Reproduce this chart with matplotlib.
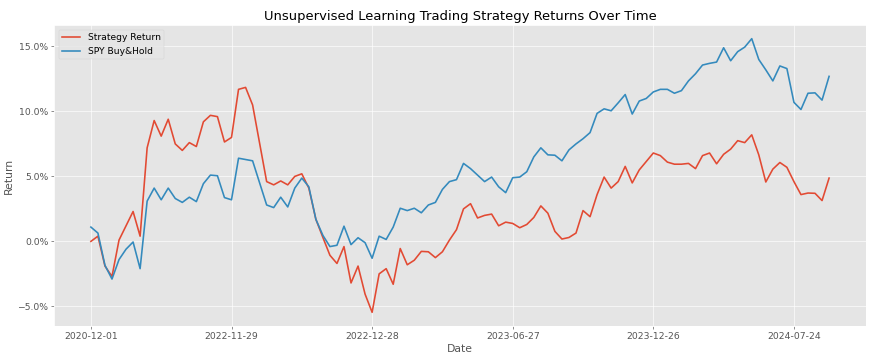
import matplotlib
matplotlib.use("Agg")
import matplotlib.pyplot as plt
from matplotlib.ticker import PercentFormatter

strategy_return = [
    0.0, 0.4, -1.9, -2.7, 0.1, 1.2, 2.3, 0.4, 7.2, 9.3,
    8.1, 9.4, 7.5, 7.0, 7.6, 7.3, 9.2, 9.7, 9.6, 7.65,
    8.0, 11.7, 11.85, 10.5, 7.55, 4.6, 4.35, 4.65, 4.35, 5.0,
    5.2, 4.1, 1.7, 0.3, -1.07, -1.7, -0.4, -3.2, -1.9, -4.06,
    -5.46, -2.5, -2.1, -3.3, -0.55, -1.8, -1.45, -0.77, -0.8, -1.25,
    -0.8, 0.1, 0.9, 2.5, 2.9, 1.8, 2.0, 2.1, 1.2, 1.48,
    1.38, 1.05, 1.3, 1.84, 2.73, 2.17, 0.77, 0.18, 0.3, 0.64,
    2.37, 1.9, 3.6, 4.95, 4.1, 4.6, 5.77, 4.5, 5.5, 6.15,
    6.8, 6.6, 6.1, 5.94, 5.94, 6.0, 5.6, 6.6, 6.8, 5.97,
    6.7, 7.1, 7.75, 7.6, 8.2, 6.66, 4.57, 5.56, 6.07, 5.7,
    4.6, 3.6, 3.72, 3.7, 3.14, 4.87,
]

spy_buy_hold = [
    1.1, 0.64, -1.84, -2.9, -1.4, -0.6, -0.05, -2.1, 3.1, 4.1,
    3.2, 4.1, 3.3, 3.0, 3.4, 3.06, 4.44, 5.1, 5.05, 3.37,
    3.2, 6.4, 6.3, 6.2, 4.5, 2.8, 2.6, 3.4, 2.65, 4.1,
    4.87, 4.2, 1.7, 0.46, -0.4, -0.3, 1.17, -0.25, 0.28, -0.1,
    -1.3, 0.4, 0.15, 1.1, 2.55, 2.37, 2.55, 2.2, 2.8, 3.0,
    4.0, 4.6, 4.75, 6.0, 5.6, 5.1, 4.6, 4.95, 4.2, 3.75,
    4.9, 4.95, 5.36, 6.5, 7.2, 6.66, 6.63, 6.2, 7.04, 7.5,
    7.9, 8.37, 9.85, 10.2, 10.05, 10.66, 11.3, 9.8, 10.8, 11.0,
    11.5, 11.7, 11.7, 11.4, 11.6, 12.35, 12.9, 13.57, 13.7, 13.8,
    14.9, 13.9, 14.6, 14.95, 15.6, 14.0, 13.2, 12.35, 13.5, 13.3,
    10.7, 10.15, 11.4, 11.43, 10.87, 12.7,
]

tick_labels = ["2020-12-01", "2022-11-29", "2022-12-28", "2023-06-27", "2023-12-26", "2024-07-24"]
tick_step = 20

plt.style.use("ggplot")
plt.rcParams["font.size"] = 11.25
DPI = 875 / 15
fig, ax = plt.subplots(figsize=(15, 359 / DPI), dpi=DPI)
fig.subplots_adjust(left=0.0617, right=0.9897, top=0.9304, bottom=0.0919)

idx = list(range(len(strategy_return)))
ax.plot(idx, strategy_return, label="Strategy Return", color="#E24A33", linewidth=2)
ax.plot(idx, spy_buy_hold, label="SPY Buy&Hold", color="#348ABD", linewidth=2)

ax.set_xticks(idx[::tick_step])
ax.set_xticklabels(tick_labels)
ax.tick_params(axis="both", labelsize=11.5)
ax.yaxis.set_major_formatter(PercentFormatter(xmax=100, decimals=1))
ax.set_title("Unsupervised Learning Trading Strategy Returns Over Time", fontsize=16.2)
ax.set_xlabel("Date", fontsize=13.5)
ax.set_ylabel("Return", fontsize=13.5)
ax.legend(loc="upper left", fontsize=11.25)

fig.savefig("out.png", dpi=DPI)
